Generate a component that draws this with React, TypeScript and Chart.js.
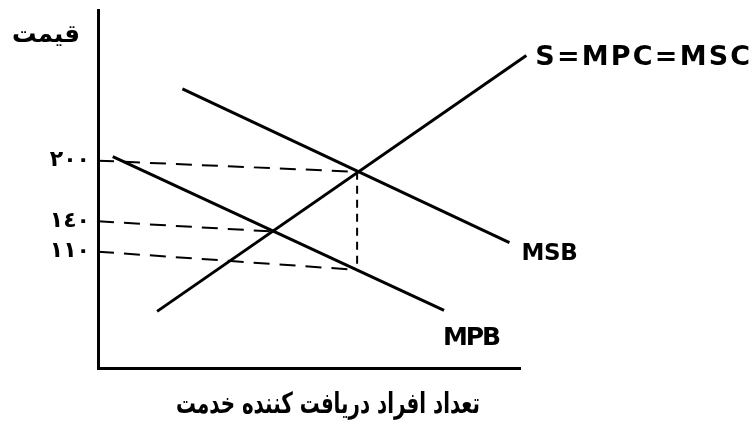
import React, { useEffect, useRef } from 'react';
import { Chart, registerables } from 'chart.js';

Chart.register(...registerables);

// ---- data (quantity 0..100, price) ----
const supplyX = [14, 101.5];
const supplyY = [51, 304];
const msbX = [20, 97.5];
const msbY = [271, 119];
const mpbX = [3.5, 82];
const mpbY = [204, 52];

// dashed guide lines
const guide200X = [0, 61.4];
const guide200Y = [200, 189];
const guide140X = [0, 41.2];
const guide140Y = [140, 130];
const guide110X = [0, 61.4];
const guide110Y = [110, 92];
const guideVX = [61.4, 61.4];
const guideVY = [189, 92];

const yTickValues = [110, 140, 200];
const yTickLabels = ['١١٠', '١٤٠', '٢٠٠'];

const curveLabels = ['S=MPC=MSC', 'MSB', 'MPB'];
const yTitle = 'قیمت';
const xTitle = 'تعداد افراد دریافت کننده خدمت';

const pts = (xs: number[], ys: number[]) => xs.map((x, i) => ({ x, y: ys[i] }));

const solid = (label: string, data: any) => ({
  label,
  data,
  borderColor: '#000',
  borderWidth: 3,
  pointRadius: 0,
  fill: false,
  tension: 0,
  clip: false as any,
});

const dashed = (label: string, data: any, dash: number[]) => ({
  label,
  data,
  borderColor: '#000',
  borderWidth: 2,
  borderDash: dash,
  pointRadius: 0,
  fill: false,
  tension: 0,
});

const textPlugin = {
  id: 'diagramText',
  afterDraw(chart: any) {
    const { ctx } = chart;
    const xs = chart.scales.x;
    const ys = chart.scales.y;
    ctx.save();
    ctx.fillStyle = '#000';

    // Arabic text: font size sets height, horizontal squeeze sets width
    const arabic = (text: string, cx: number, cy: number, w: number, size: number) => {
      ctx.font = `bold ${size}px "DejaVu Sans"`;
      ctx.direction = 'rtl';
      const m = ctx.measureText(text).width;
      const k = w / m;
      ctx.save();
      ctx.translate(cx, cy);
      ctx.scale(k, 1);
      ctx.textAlign = 'center';
      ctx.textBaseline = 'middle';
      ctx.fillText(text, 0, 0);
      ctx.restore();
      ctx.direction = 'ltr';
    };

    const latin = (text: string, left: number, base: number, size: number, w: number) => {
      ctx.font = `600 ${size}px "DejaVu Sans"`;
      ctx.letterSpacing = '0px';
      const m = ctx.measureText(text).width;
      const sp = (w - m) / text.length;
      ctx.letterSpacing = `${sp}px`;
      ctx.textAlign = 'left';
      ctx.textBaseline = 'alphabetic';
      ctx.fillText(text, left, base);
      ctx.letterSpacing = '0px';
    };

    arabic(yTitle, 46, 35, 68, 25);
    arabic(xTitle, 328, 405, 304, 29);

    const sx = xs.getPixelForValue(supplyX[1]);
    const sy = ys.getPixelForValue(supplyY[1]);
    latin(curveLabels[0], sx + 9, sy + 9, 27, 217);

    const mx = xs.getPixelForValue(msbX[1]);
    const my = ys.getPixelForValue(msbY[1]);
    latin(curveLabels[1], mx + 12, my + 17, 23, 56);

    const px = xs.getPixelForValue(mpbX[1]);
    const py = ys.getPixelForValue(mpbY[1]);
    latin(curveLabels[2], px - 1, py + 35, 25, 56);

    ctx.restore();
  },
};

export default function App() {
  const ref = useRef<HTMLCanvasElement>(null);

  useEffect(() => {
    document.body.style.margin = '0';
    const canvas = ref.current!;
    const chart = new Chart(canvas, {
      type: 'line',
      data: {
        datasets: [
          solid(curveLabels[0], pts(supplyX, supplyY)),
          solid(curveLabels[1], pts(msbX, msbY)),
          solid(curveLabels[2], pts(mpbX, mpbY)),
          dashed('200', pts(guide200X, guide200Y), [16, 10]),
          dashed('140', pts(guide140X, guide140Y), [16, 10]),
          dashed('110', pts(guide110X, guide110Y), [16, 10]),
          dashed('v', pts(guideVX, guideVY), [8, 6]),
        ] as any,
      },
      options: {
        responsive: false,
        animation: false,
        layout: { padding: { top: 10, right: 233, left: 0, bottom: 0 } },
        plugins: {
          legend: { display: false },
          tooltip: { enabled: false },
          title: { display: false },
        },
        scales: {
          x: {
            type: 'linear',
            min: 0,
            max: 100,
            ticks: { display: false },
            grid: { display: false, drawTicks: false },
            border: { display: true, color: '#000', width: 3 },
            afterFit: (s: any) => {
              s.height = 61;
              s.paddingLeft = 0;
              s.paddingRight = 0;
            },
          },
          y: {
            type: 'linear',
            min: -5,
            max: 349,
            afterBuildTicks: (s: any) => {
              s.ticks = yTickValues.map((v) => ({ value: v }));
            },
            ticks: {
              callback: (v: any) => {
                const i = yTickValues.indexOf(Number(v));
                return i >= 0 ? yTickLabels[i] : '';
              },
              color: '#000',
              font: { family: 'DejaVu Sans', size: 22, weight: 'bold' },
              padding: 8,
            },
            grid: { display: false, drawTicks: false },
            border: { display: true, color: '#000', width: 3 },
            afterFit: (s: any) => {
              s.width = 98;
              s.paddingTop = 0;
              s.paddingBottom = 0;
            },
          },
        },
      } as any,
      plugins: [textPlugin],
    });
    return () => chart.destroy();
  }, []);

  return (
    <div style={{ width: 753, height: 429, background: '#fff' }}>
      <canvas ref={ref} width={753} height={429} style={{ display: 'block' }} />
    </div>
  );
}
